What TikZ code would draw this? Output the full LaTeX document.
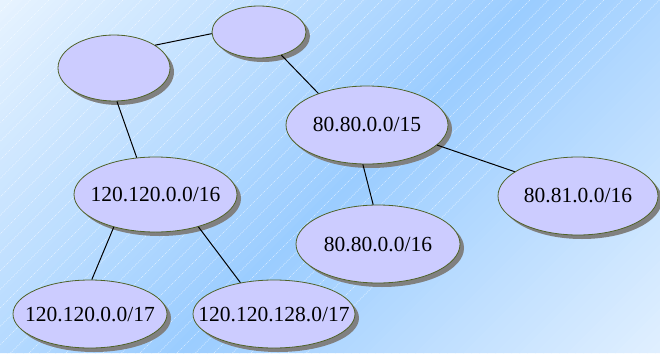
\documentclass[tikz,border=0pt]{standalone}
\usepackage{fontspec}
\setmainfont{Liberation Serif}
\newfontfamily\labelfont{Liberation Serif}
\usetikzlibrary{shapes.geometric,shadows}
\definecolor{nodeFill}{RGB}{204,204,255}
\definecolor{nodeBorder}{RGB}{79,98,40}
\definecolor{shadowGray}{RGB}{128,128,128}
\begin{document}
\begin{tikzpicture}[x=1pt,y=-1pt,
  netnode/.style={ellipse, draw=nodeBorder, line width=0.8pt, fill=nodeFill, inner sep=0pt,
    drop shadow={shadow xshift=4pt, shadow yshift=-4pt, fill=shadowGray, opacity=1}},
  bigfont/.style={font=\labelfont\fontsize{21.5}{25}\selectfont},
  smallfont/.style={font=\labelfont\fontsize{21.5}{25}\selectfont},
  link/.style={draw=black, line width=1pt},
  stripe/.style={white, opacity=0.65, line width=0.5pt, dash pattern=on 1pt off 1pt}]
\useasboundingbox (0,0) rectangle (660,353);
\begin{scope}
  \clip (0,0) rectangle (660,353);
  % diagonal gradient built from thin strips (t = x + y)
  \foreach \k in {0,...,126} {
    \pgfmathsetmacro{\ta}{\k*8}
    \pgfmathsetmacro{\tb}{\k*8+9}
    \pgfmathsetmacro{\fa}{min(1,(\k*8+4)/530)}
    \pgfmathsetmacro{\fb}{max(0,(\k*8+4-530)/483)}
    \pgfmathtruncatemacro{\rr}{232-77*\fa+70*\fb}
    \pgfmathtruncatemacro{\gg}{244-39*\fa+35*\fb}
    \definecolor{stripcol}{RGB}{\rr,\gg,255}
    \fill[stripcol] (\ta,0) -- (\tb,0) -- ({\tb-353},353) -- ({\ta-353},353) -- cycle;
  }
  \foreach \i in {-20,...,35} {
    \draw[stripe] ({12+\i*18.5-353},353) -- ({12+\i*18.5},0);
  }
\end{scope}
% nodes
\node[netnode, minimum width=112pt, minimum height=66pt] (A) at (114,68) {};
\node[netnode, minimum width=94pt, minimum height=52pt] (B) at (259,32) {};
\node[netnode, smallfont, minimum width=162pt, minimum height=78pt] (C) at (367,125) {\makebox[0pt]{80.80.0.0/15}};
\node[netnode, smallfont, minimum width=160pt, minimum height=78pt] (D) at (578,196) {\makebox[0pt]{80.81.0.0/16}};
\node[netnode, smallfont, minimum width=164pt, minimum height=78pt] (E) at (378,244) {\makebox[0pt]{80.80.0.0/16}};
\node[netnode, bigfont, minimum width=163pt, minimum height=75pt] (F) at (155.5,194.5) {\makebox[0pt]{120.120.0.0/16}};
\node[netnode, bigfont, minimum width=154pt, minimum height=68pt] (G) at (90,314) {\makebox[0pt]{120.120.0.0/17}};
\node[netnode, bigfont, minimum width=162pt, minimum height=68pt] (H) at (274,314) {\makebox[0pt]{120.120.128.0/17}};
% links
\draw[link] (A.29) -- (B.182);
\draw[link] (B.314) -- (C.147);
\draw[link] (A.275) -- (F.117);
\draw[link] (F.218) -- (G.87);
\draw[link] (F.323) -- (H.137);
\draw[link] (C.264) -- (E.97);
\draw[link] (C.344) -- (D.159);
\end{tikzpicture}
\end{document}
